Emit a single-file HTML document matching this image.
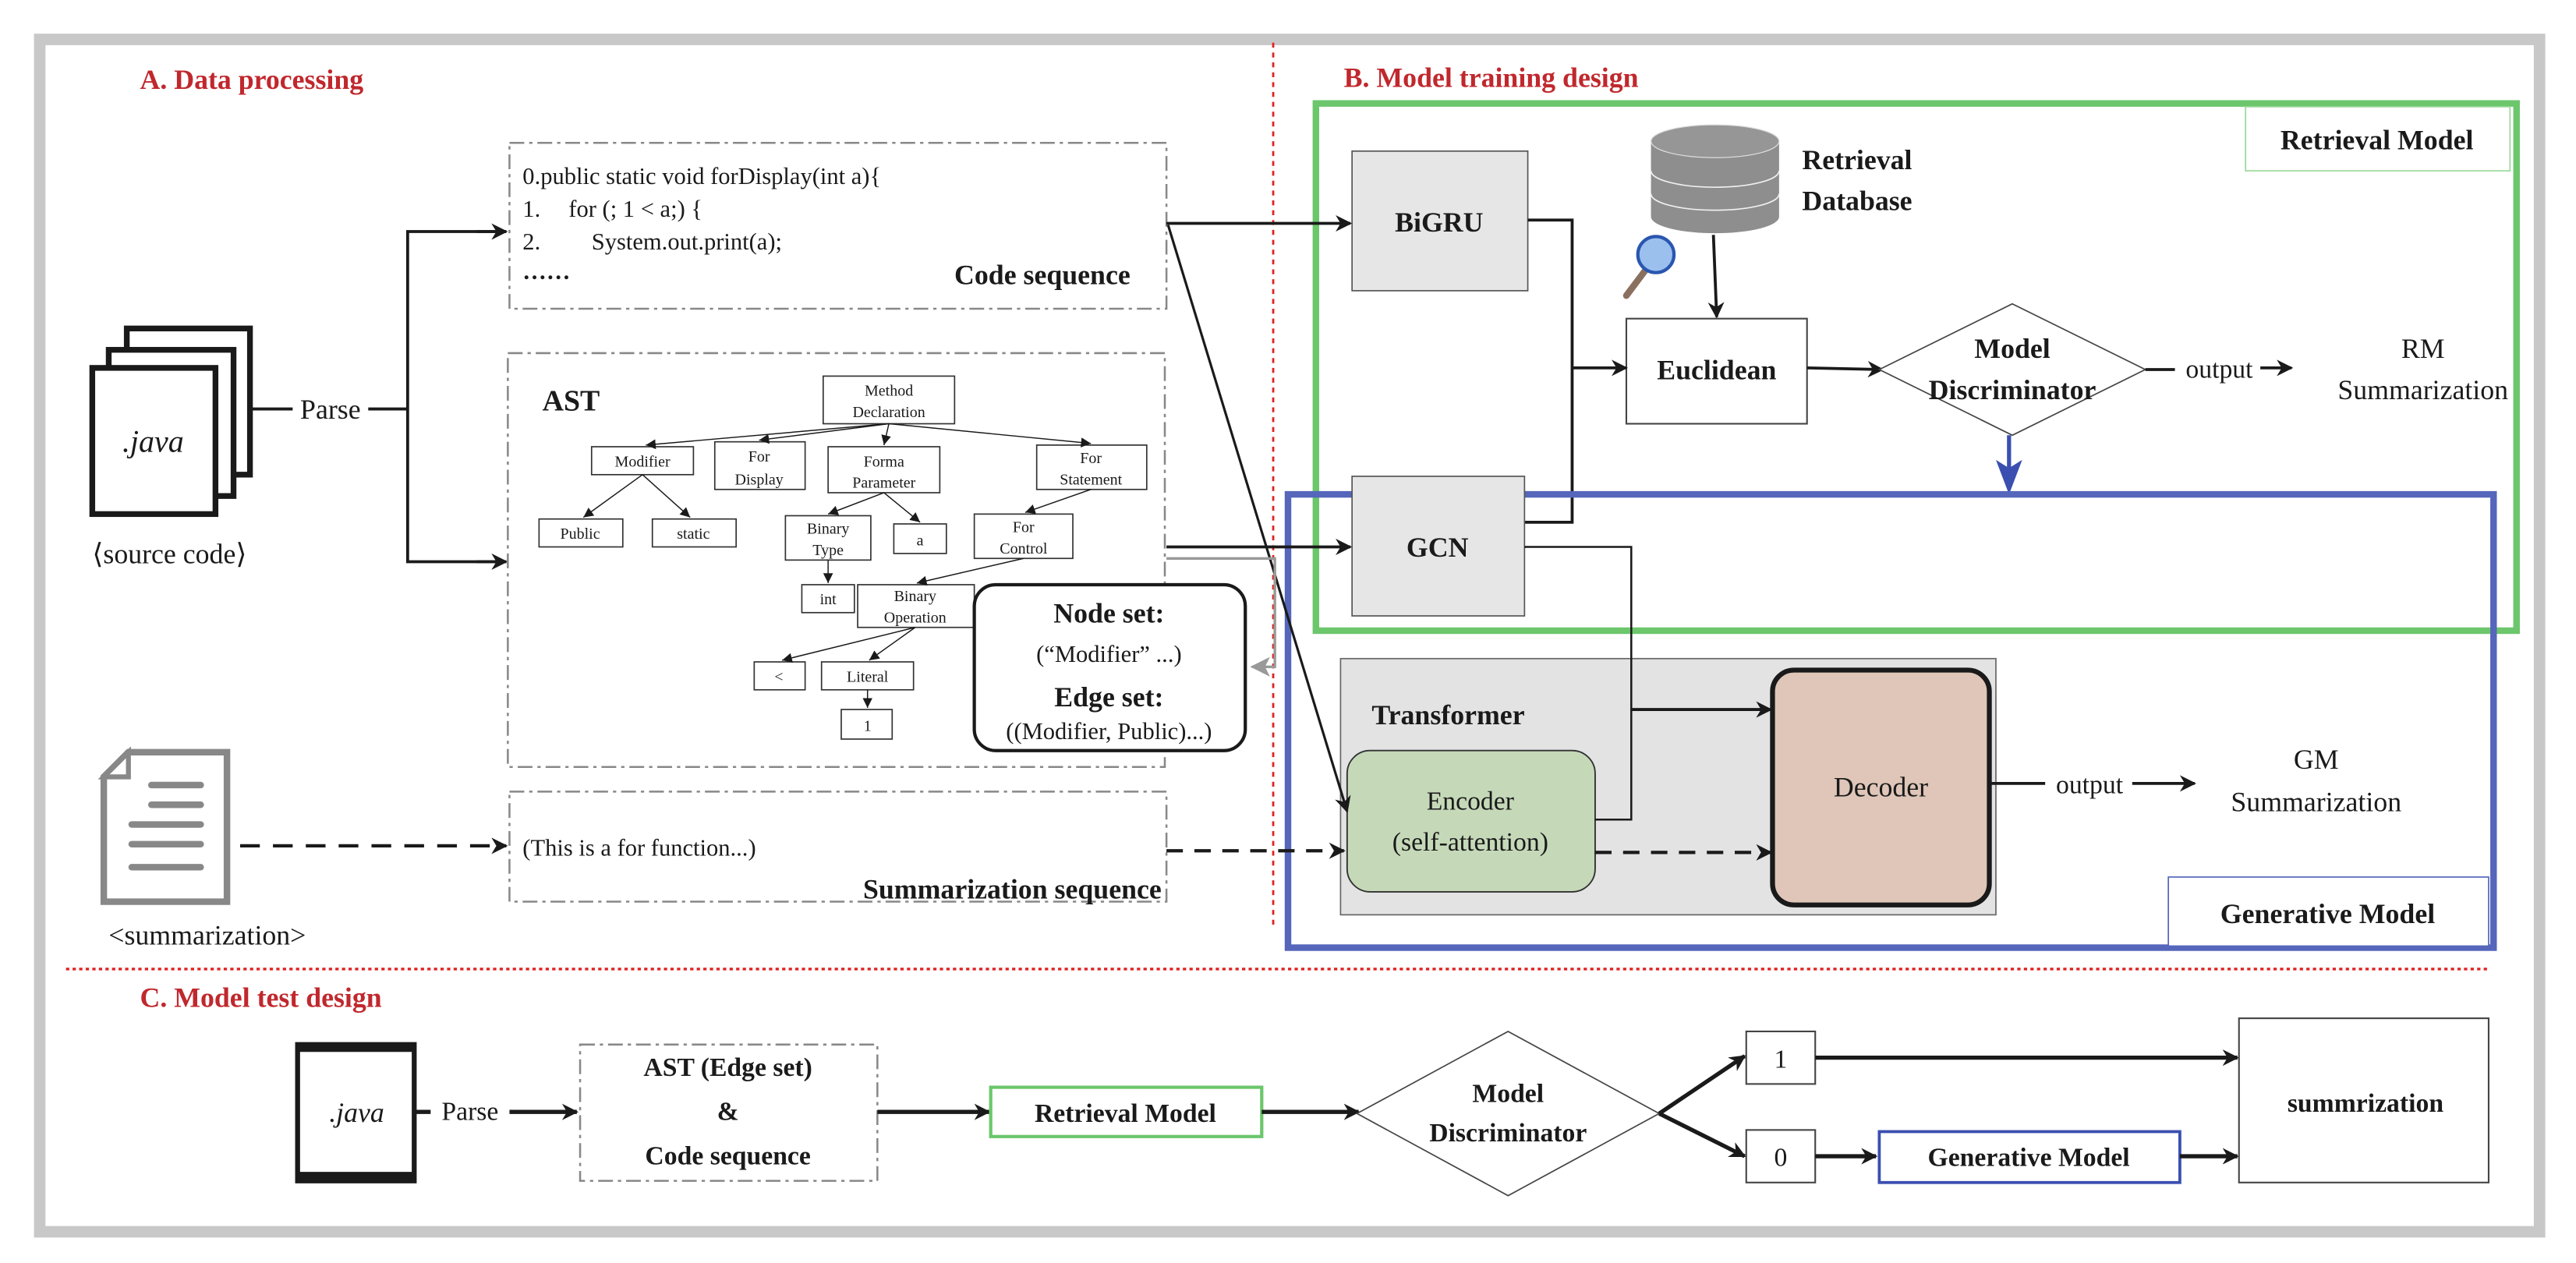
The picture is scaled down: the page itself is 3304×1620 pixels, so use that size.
<!DOCTYPE html>
<html><head><meta charset="utf-8"><style>
html,body{margin:0;padding:0;background:#fff}
svg{display:block}
text{font-family:"Liberation Serif",serif;fill:#1a1a1a}
.b{font-weight:bold}
.r{fill:#c0282d;font-weight:bold;font-size:17px}
.n{font-size:9.5px;text-anchor:middle}
.c{text-anchor:middle}
</style></head><body>
<svg width="3304" height="1620" viewBox="0 0 1568 769" xmlns="http://www.w3.org/2000/svg">
<defs>
<marker id="a" markerWidth="10" markerHeight="10" refX="9" refY="5" orient="auto" markerUnits="userSpaceOnUse"><path d="M0,0 L10,5 L0,10 L3,5 z" fill="#1a1a1a"/></marker>
<marker id="s" markerWidth="6" markerHeight="6" refX="6" refY="3" orient="auto" markerUnits="userSpaceOnUse"><path d="M0,0 L6,3 L0,6 z" fill="#1a1a1a"/></marker>
<marker id="g" markerWidth="12" markerHeight="12" refX="11" refY="6" orient="auto" markerUnits="userSpaceOnUse"><path d="M0,0 L12,6 L0,12 L3,6 z" fill="#999"/></marker>
</defs>
<rect x="24" y="24" width="1522" height="726" fill="none" stroke="#c8c8c8" stroke-width="7"/>
<line x1="775" y1="26" x2="775" y2="565" stroke="#e02020" stroke-width="1.3" stroke-dasharray="3,3"/>
<line x1="40" y1="590" x2="1515" y2="590" stroke="#e02020" stroke-width="1.6" stroke-dasharray="2,2"/>

<text x="85" y="54" class="r">A. Data processing</text>
<text x="818" y="53" class="r">B. Model training design</text>
<text x="85" y="613" class="r">C. Model test design</text>

<rect x="77" y="200" width="75" height="89" fill="#fff" stroke="#1a1a1a" stroke-width="3.5"/>
<rect x="66" y="213" width="76" height="89" fill="#fff" stroke="#1a1a1a" stroke-width="3.5"/>
<rect x="56" y="224" width="75" height="89" fill="#fff" stroke="#1a1a1a" stroke-width="3.5"/>
<text x="93" y="275" font-size="19" font-style="italic" class="c">.java</text>
<text x="103" y="343" font-size="17" class="c">⟨source code⟩</text>
<line x1="152" y1="249" x2="178" y2="249" stroke="#1a1a1a" stroke-width="1.8"/>
<text x="201" y="255" font-size="17" class="c">Parse</text>
<line x1="224" y1="249" x2="248" y2="249" stroke="#1a1a1a" stroke-width="1.8"/>
<polyline points="308,141 248,141 248,342 308,342" fill="none" stroke="#1a1a1a" stroke-width="1.8"/>
<line x1="290" y1="141" x2="308" y2="141" stroke="#1a1a1a" stroke-width="1.8" marker-end="url(#a)"/>
<line x1="290" y1="342" x2="308" y2="342" stroke="#1a1a1a" stroke-width="1.8" marker-end="url(#a)"/>

<path d="M78,458 L138,458 L138,549 L63,549 L63,473 Z" fill="#fff" stroke="#888" stroke-width="4"/>
<path d="M63,473 L78,458 L78,473 Z" fill="#fff" stroke="#888" stroke-width="3"/>
<g stroke="#888" stroke-width="4" stroke-linecap="round"><line x1="92" y1="478" x2="122" y2="478"/><line x1="92" y1="490" x2="122" y2="490"/><line x1="80" y1="502" x2="122" y2="502"/><line x1="80" y1="514" x2="122" y2="514"/><line x1="80" y1="528" x2="122" y2="528"/></g>
<text x="126" y="575" font-size="17" class="c">&lt;summarization&gt;</text>
<line x1="146" y1="515" x2="308" y2="515" stroke="#1a1a1a" stroke-width="2" stroke-dasharray="12,8" marker-end="url(#a)"/>

<rect x="310" y="87" width="400" height="101" fill="none" stroke="#888" stroke-width="1.2" stroke-dasharray="9,3,2,3"/>
<g font-size="14.5">
<text x="318" y="112">0.public static void forDisplay(int a){</text>
<text x="318" y="132">1.</text><text x="346" y="132">for (; 1 &lt; a;) {</text>
<text x="318" y="152">2.</text><text x="360" y="152">System.out.print(a);</text>
<text x="318" y="170" class="b">……</text>
</g>
<text x="688" y="173" font-size="17" class="b" text-anchor="end">Code sequence</text>

<rect x="309" y="215" width="400" height="252" fill="none" stroke="#888" stroke-width="1.2" stroke-dasharray="9,3,2,3"/>
<text x="330" y="250" font-size="18" class="b">AST</text>
<g fill="#fff" stroke="#333" stroke-width="0.8">
<rect x="501" y="229" width="80" height="29"/>
<rect x="360" y="272" width="62" height="17"/>
<rect x="435" y="269" width="55" height="29"/>
<rect x="504" y="272" width="68" height="28"/>
<rect x="631" y="271" width="67" height="27"/>
<rect x="328" y="316" width="51" height="17"/>
<rect x="397" y="316" width="51" height="17"/>
<rect x="478" y="314" width="52" height="27"/>
<rect x="544" y="319" width="32" height="18"/>
<rect x="593" y="313" width="60" height="27"/>
<rect x="488" y="356" width="32" height="17"/>
<rect x="522" y="356" width="71" height="26"/>
<rect x="459" y="403" width="31" height="17"/>
<rect x="500" y="403" width="56" height="17"/>
<rect x="512" y="432" width="31" height="18"/>
</g>
<g stroke="#1a1a1a" stroke-width="0.7" marker-end="url(#s)">
<line x1="541" y1="258" x2="393" y2="271"/>
<line x1="541" y1="258" x2="462" y2="268"/>
<line x1="541" y1="258" x2="538" y2="271"/>
<line x1="541" y1="258" x2="664" y2="270"/>
<line x1="391" y1="289" x2="355" y2="315"/>
<line x1="391" y1="289" x2="420" y2="315"/>
<line x1="538" y1="300" x2="504" y2="313"/>
<line x1="538" y1="300" x2="560" y2="318"/>
<line x1="664" y1="298" x2="624" y2="312"/>
<line x1="504" y1="341" x2="504" y2="355"/>
<line x1="623" y1="340" x2="558" y2="355"/>
<line x1="557" y1="382" x2="476" y2="402"/>
<line x1="557" y1="382" x2="529" y2="402"/>
<line x1="528" y1="420" x2="528" y2="431"/>
</g>
<g class="n">
<text x="541" y="241" class="n">Method</text><text x="541" y="254" class="n">Declaration</text>
<text x="391" y="284" class="n">Modifier</text>
<text x="462" y="281" class="n">For</text><text x="462" y="295" class="n">Display</text>
<text x="538" y="284" class="n">Forma</text><text x="538" y="297" class="n">Parameter</text>
<text x="664" y="282" class="n">For</text><text x="664" y="295" class="n">Statement</text>
<text x="353" y="328" class="n">Public</text>
<text x="422" y="328" class="n">static</text>
<text x="504" y="325" class="n">Binary</text><text x="504" y="338" class="n">Type</text>
<text x="560" y="332" class="n">a</text>
<text x="623" y="324" class="n">For</text><text x="623" y="337" class="n">Control</text>
<text x="504" y="368" class="n">int</text>
<text x="557" y="366" class="n">Binary</text><text x="557" y="379" class="n">Operation</text>
<text x="474" y="415" class="n">&lt;</text>
<text x="528" y="415" class="n">Literal</text>
<text x="528" y="445" class="n">1</text>
</g>
<rect x="593" y="356" width="165" height="101" rx="13" fill="#fff" stroke="#1a1a1a" stroke-width="2"/>
<text x="675" y="379" font-size="17" class="b c">Node set:</text>
<text x="675" y="403" font-size="14.5" class="c">(“Modifier” ...)</text>
<text x="675" y="430" font-size="17" class="b c">Edge set:</text>
<text x="675" y="450" font-size="14.5" class="c">((Modifier, Public)...)</text>

<rect x="310" y="482" width="400" height="67" fill="none" stroke="#888" stroke-width="1.2" stroke-dasharray="9,3,2,3"/>
<text x="318" y="521" font-size="14.5">(This is a for function...)</text>
<text x="707" y="547" font-size="17" class="b" text-anchor="end">Summarization sequence</text>

<rect x="801" y="63" width="731" height="321" fill="none" stroke="#6cc66c" stroke-width="4"/>
<rect x="1367" y="65" width="161" height="39" fill="#fff" stroke="#9ad89a" stroke-width="0.8"/>
<text x="1447" y="91" font-size="17" class="b c">Retrieval Model</text>
<rect x="823" y="92" width="107" height="85" fill="#e6e6e6" stroke="#555" stroke-width="0.8"/>
<text x="876" y="141" font-size="17" class="b c">BiGRU</text>
<path d="M1005,86 L1005,132 A39,10 0 0 0 1083,132 L1083,86 Z" fill="#8e8e8e"/>
<ellipse cx="1044" cy="86" rx="39" ry="10" fill="#969696" stroke="#ddd" stroke-width="0.6"/>
<path d="M1005,104 A39,10 0 0 0 1083,104 M1005,118 A39,10 0 0 0 1083,118" fill="none" stroke="#eee" stroke-width="0.8"/>
<text x="1097" y="103" font-size="17" class="b">Retrieval</text>
<text x="1097" y="128" font-size="17" class="b">Database</text>
<line x1="990" y1="180" x2="1002" y2="164" stroke="#8a7060" stroke-width="4" stroke-linecap="round"/>
<circle cx="1008" cy="155" r="11" fill="#9bc0ee" stroke="#2a56b0" stroke-width="2"/>
<line x1="1043" y1="143" x2="1045" y2="193" stroke="#1a1a1a" stroke-width="1.8" marker-end="url(#a)"/>
<rect x="990" y="194" width="110" height="64" fill="#fff" stroke="#444" stroke-width="1"/>
<text x="1045" y="231" font-size="17" class="b c">Euclidean</text>
<polyline points="930,134 957,134 957,318 928,318" fill="none" stroke="#1a1a1a" stroke-width="1.8"/>
<line x1="957" y1="224" x2="990" y2="224" stroke="#1a1a1a" stroke-width="1.8" marker-end="url(#a)"/>
<line x1="1100" y1="224" x2="1146" y2="225" stroke="#1a1a1a" stroke-width="1.8" marker-end="url(#a)"/>
<polygon points="1225,185 1306,225 1225,265 1144,225" fill="#fff" stroke="#444" stroke-width="0.8"/>
<text x="1225" y="218" font-size="17" class="b c">Model</text>
<text x="1225" y="243" font-size="17" class="b c">Discriminator</text>
<line x1="1306" y1="225" x2="1324" y2="225" stroke="#1a1a1a" stroke-width="1.8"/>
<text x="1351" y="230" font-size="16" class="c">output</text>
<line x1="1376" y1="224" x2="1395" y2="224" stroke="#1a1a1a" stroke-width="1.8" marker-end="url(#a)"/>
<text x="1475" y="218" font-size="17" class="c">RM</text>
<text x="1475" y="243" font-size="17" class="c">Summarization</text>
<line x1="1223" y1="265" x2="1223" y2="290" stroke="#3a4fb0" stroke-width="2.5"/>
<polygon points="1215,280 1223,301 1231,280 1223,285" fill="#3a4fb0"/>

<rect x="784" y="301" width="734" height="276" fill="none" stroke="#5566bb" stroke-width="4"/>
<rect x="823" y="290" width="105" height="85" fill="#e6e6e6" stroke="#555" stroke-width="0.8"/>
<text x="875" y="339" font-size="17" class="b c">GCN</text>
<rect x="816" y="401" width="399" height="156" fill="#e3e3e3" stroke="#666" stroke-width="0.8"/>
<text x="835" y="441" font-size="17" class="b">Transformer</text>
<rect x="820" y="457" width="151" height="86" rx="14" fill="#c5d9b9" stroke="#333" stroke-width="0.9"/>
<text x="895" y="493" font-size="16" class="c">Encoder</text>
<text x="895" y="518" font-size="16" class="c">(self-attention)</text>
<rect x="1079" y="408" width="132" height="143" rx="13" fill="#dfc6b8" stroke="#1a1a1a" stroke-width="3"/>
<text x="1145" y="485" font-size="17" class="c">Decoder</text>
<polyline points="928,333 993,333 993,499 971,499" fill="none" stroke="#1a1a1a" stroke-width="1.2"/>
<line x1="993" y1="432" x2="1078" y2="432" stroke="#1a1a1a" stroke-width="1.8" marker-end="url(#a)"/>
<line x1="971" y1="519" x2="1078" y2="519" stroke="#1a1a1a" stroke-width="2" stroke-dasharray="10,7" marker-end="url(#a)"/>
<line x1="1211" y1="477" x2="1245" y2="477" stroke="#1a1a1a" stroke-width="1.8"/>
<text x="1272" y="483" font-size="16" class="c">output</text>
<line x1="1298" y1="477" x2="1336" y2="477" stroke="#1a1a1a" stroke-width="1.8" marker-end="url(#a)"/>
<text x="1410" y="468" font-size="17" class="c">GM</text>
<text x="1410" y="494" font-size="17" class="c">Summarization</text>
<rect x="1320" y="534" width="195" height="42" fill="#fff" stroke="#5566bb" stroke-width="0.8"/>
<text x="1417" y="562" font-size="17" class="b c">Generative Model</text>

<line x1="710" y1="136" x2="822" y2="136" stroke="#1a1a1a" stroke-width="1.8" marker-end="url(#a)"/>
<line x1="711" y1="137" x2="820" y2="494" stroke="#1a1a1a" stroke-width="1.5" marker-end="url(#a)"/>
<line x1="710" y1="333" x2="822" y2="333" stroke="#1a1a1a" stroke-width="1.8" marker-end="url(#a)"/>
<polyline points="710,340 776,340 776,406 762,406" fill="none" stroke="#999" stroke-width="1.6" marker-end="url(#g)"/>
<line x1="710" y1="518" x2="818" y2="518" stroke="#1a1a1a" stroke-width="2" stroke-dasharray="10,7" marker-end="url(#a)"/>

<rect x="181" y="636" width="71" height="83" fill="#fff" stroke="#1a1a1a" stroke-width="3"/>
<line x1="181" y1="638" x2="252" y2="638" stroke="#1a1a1a" stroke-width="5"/>
<line x1="181" y1="716" x2="252" y2="716" stroke="#1a1a1a" stroke-width="5"/>
<text x="217" y="683" font-size="17" font-style="italic" class="c">.java</text>
<line x1="252" y1="677" x2="262" y2="677" stroke="#1a1a1a" stroke-width="2.5"/>
<text x="286" y="682" font-size="16" class="c">Parse</text>
<line x1="310" y1="677" x2="351" y2="677" stroke="#1a1a1a" stroke-width="2.5" marker-end="url(#a)"/>
<rect x="353" y="636" width="181" height="83" fill="none" stroke="#888" stroke-width="1.2" stroke-dasharray="9,3,2,3"/>
<text x="443" y="655" font-size="16" class="b c">AST (Edge set)</text>
<text x="443" y="682" font-size="16" class="b c">&amp;</text>
<text x="443" y="709" font-size="16" class="b c">Code sequence</text>
<line x1="534" y1="677" x2="602" y2="677" stroke="#1a1a1a" stroke-width="2.5" marker-end="url(#a)"/>
<rect x="603" y="662" width="165" height="30" fill="#fff" stroke="#6cc66c" stroke-width="2"/>
<text x="685" y="683" font-size="16" class="b c">Retrieval Model</text>
<line x1="768" y1="677" x2="827" y2="677" stroke="#1a1a1a" stroke-width="2.5" marker-end="url(#a)"/>
<polygon points="918,628 1010,678 918,728 826,678" fill="#fff" stroke="#444" stroke-width="0.8"/>
<text x="918" y="671" font-size="16" class="b c">Model</text>
<text x="918" y="695" font-size="16" class="b c">Discriminator</text>
<line x1="1010" y1="678" x2="1062" y2="643" stroke="#1a1a1a" stroke-width="2.5" marker-end="url(#a)"/>
<line x1="1010" y1="678" x2="1062" y2="704" stroke="#1a1a1a" stroke-width="2.5" marker-end="url(#a)"/>
<rect x="1063" y="628" width="42" height="32" fill="#fff" stroke="#444" stroke-width="1"/>
<text x="1084" y="650" font-size="16" class="c">1</text>
<rect x="1063" y="688" width="42" height="32" fill="#fff" stroke="#444" stroke-width="1"/>
<text x="1084" y="710" font-size="16" class="c">0</text>
<line x1="1105" y1="644" x2="1362" y2="644" stroke="#1a1a1a" stroke-width="2.5" marker-end="url(#a)"/>
<line x1="1105" y1="704" x2="1142" y2="704" stroke="#1a1a1a" stroke-width="2.5" marker-end="url(#a)"/>
<rect x="1144" y="689" width="183" height="31" fill="#fff" stroke="#3a4fb0" stroke-width="1.8"/>
<text x="1235" y="710" font-size="16" class="b c">Generative Model</text>
<line x1="1327" y1="704" x2="1362" y2="704" stroke="#1a1a1a" stroke-width="2.5" marker-end="url(#a)"/>
<rect x="1363" y="620" width="152" height="100" fill="#fff" stroke="#444" stroke-width="1"/>
<text x="1440" y="677" font-size="16" class="b c">summrization</text>
</svg>
</body></html>
